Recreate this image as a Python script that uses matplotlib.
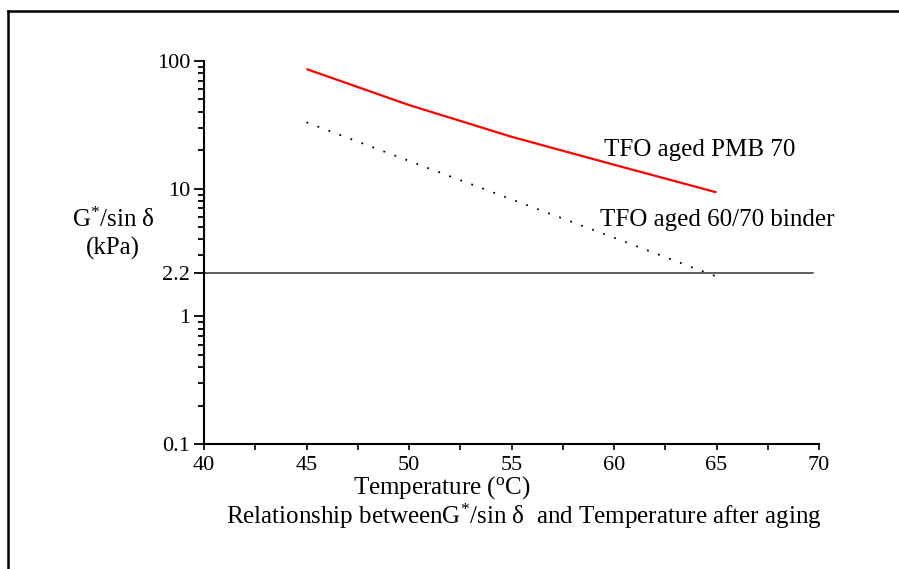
import matplotlib
matplotlib.use("Agg")
import matplotlib.pyplot as plt
from matplotlib.lines import Line2D
from matplotlib.ticker import FixedLocator, NullFormatter

plt.rcParams["font.family"] = ["Liberation Serif", "DejaVu Serif"]
plt.rcParams["mathtext.fontset"] = "custom"
plt.rcParams["mathtext.rm"] = "Liberation Serif"
plt.rcParams["mathtext.it"] = "Liberation Serif:italic"

# Data
temperature = [45, 50, 55, 60, 65]
pmb70 = [86.5, 45.2, 25.5, 15.4, 9.36]
binder_6070 = [33.1, 16.5, 8.25, 4.13, 2.05]
threshold = 2.2
threshold_span = [40, 69.7]

x_ticks = [40, 45, 50, 55, 60, 65, 70]
y_ticks = [0.1, 1, 2.2, 10, 100]
y_tick_labels = ["0.1", "1", "2.2", "10", "100"]

fig = plt.figure(figsize=(8.99, 5.69), dpi=100)
ax = fig.add_axes([204 / 899, 1 - 444 / 569, (819 - 204) / 899, (444 - 61) / 569])

ax.plot(temperature, pmb70, color="#ff0000", lw=1.6, solid_capstyle="butt")
ax.plot(temperature, binder_6070, color="black", lw=1.3,
        linestyle=(0, (1, 5.5)))
ax.plot(threshold_span, [threshold, threshold], color="#333333", lw=1.1)

ax.set_yscale("log")
ax.set_xlim(40, 70)
ax.set_ylim(0.1, 100)

ax.set_xticks(x_ticks)
ax.set_xticklabels([str(v) for v in x_ticks])
ax.xaxis.set_minor_locator(FixedLocator([42.5, 47.5, 52.5, 57.5, 62.5, 67.5]))

ax.set_yticks(y_ticks)
ax.set_yticklabels(y_tick_labels)
minor_y = [m * d for d in (0.1, 1, 10) for m in range(2, 10)]
minor_y = [v for v in minor_y if abs(v - 2) > 1e-9]
ax.yaxis.set_minor_locator(FixedLocator(minor_y))
ax.yaxis.set_minor_formatter(NullFormatter())

for side in ("top", "right"):
    ax.spines[side].set_visible(False)
for side in ("left", "bottom"):
    ax.spines[side].set_linewidth(1.5)

ax.tick_params(axis="y", which="major", direction="out", length=7, width=1.3,
               labelsize=16, pad=3)
ax.tick_params(axis="y", which="minor", direction="out", length=4, width=1.3)
ax.tick_params(axis="x", which="major", direction="out", length=4, width=1.2,
               labelsize=16, pad=5)
ax.tick_params(axis="x", which="minor", direction="out", length=4, width=1.2)

label_size = 18

ax.text(700 / 899, 1 - 150 / 569, "TFO aged PMB 70", fontsize=label_size,
        va="center", ha="center", transform=fig.transFigure)
ax.text(717 / 899, 1 - 220 / 569, "TFO aged 60/70 binder", fontsize=label_size,
        va="center", ha="center", transform=fig.transFigure)

fig.text(113 / 899, 1 - 220 / 569, "G$^{\\mathrm{*}}$/sin δ", fontsize=label_size,
         ha="center", va="center")
fig.text(113 / 899, 1 - 248 / 569, "(kPa)", fontsize=label_size,
         ha="center", va="center")

fig.text(442 / 899, 1 - 488 / 569, "Temperature ($^{\\mathrm{o}}$C)",
         fontsize=label_size, ha="center", va="center")
fig.text(524 / 899, 1 - 516 / 569,
         "Relationship betweenG$^{\\mathrm{*}}$/sin δ  and Temperature after aging",
         fontsize=label_size, ha="center", va="center")

# Frame around the figure
fig.add_artist(Line2D([8 / 899, 8 / 899], [0, 1 - 11 / 569], color="black",
                      lw=1.8, transform=fig.transFigure))
fig.add_artist(Line2D([8 / 899, 1], [1 - 11 / 569, 1 - 11 / 569], color="black",
                      lw=1.8, transform=fig.transFigure))

fig.savefig("out.png", dpi=100)
